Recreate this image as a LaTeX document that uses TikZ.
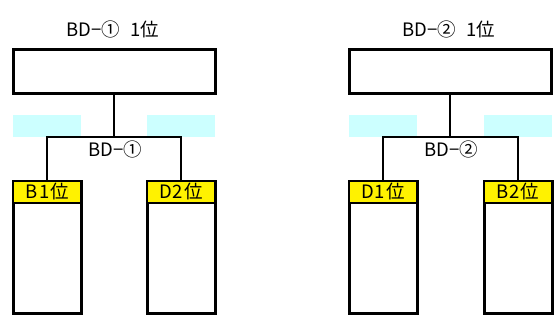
\documentclass[tikz,border=0pt]{standalone}
\usepackage{fontspec}
\setmainfont{Noto Sans CJK JP}
\definecolor{lcyan}{RGB}{204,255,255}
\begin{document}
\begin{tikzpicture}[x=1pt,y=-1pt,
  topbox/.style={draw=black,line width=3pt,fill=white,minimum width=202pt,minimum height=44pt,inner sep=0pt},
  lowbox/.style={draw=black,line width=3pt,fill=white,minimum width=68pt,minimum height=132pt,inner sep=0pt},
  headbox/.style={draw=black,line width=2pt,fill=yellow,minimum width=68pt,minimum height=22pt,inner sep=0pt,font=\fontsize{18.5pt}{18.5pt}\selectfont},
  cyanbox/.style={fill=lcyan,draw=none,minimum width=68pt,minimum height=22pt,inner sep=0pt},
  conn/.style={draw=black,line width=2pt},
  lbl/.style={font=\fontsize{18.5pt}{18.5pt}\selectfont,inner sep=0pt}
]
\useasboundingbox (0,0) rectangle (557,327);
\fill[white] (0,0) rectangle (557,327);
% ---- left group ----
\node[lbl] (title1) at (113,29) {BD−①\hspace{6pt} 1位};
\node[topbox] (t1) at (114,71) {};
\node[cyanbox] (c1l) at (47,126) {};
\node[cyanbox] (c1r) at (181,126) {};
\node[lowbox] (b1l) at (47,247) {};
\node[lowbox] (b1r) at (181,247) {};
\node[headbox,anchor=north] (h1l) at (b1l.north) {B\hspace{2pt}1\hspace{1pt}位};
\node[headbox,anchor=north] (h1r) at (b1r.north) {D\hspace{1pt}2\hspace{1pt}位};
\coordinate (j1) at (114,137);
\draw[conn] (t1.south) -- (j1);
\draw[conn] (b1l.north) |- (j1) -| (b1r.north);
\node[lbl] (m1) at (115,149) {BD−①};
% ---- right group ----
\node[lbl] (title2) at (449,29) {BD−②\hspace{6pt} 1位};
\node[topbox] (t2) at (450,71) {};
\node[cyanbox] (c2l) at (383,126) {};
\node[cyanbox] (c2r) at (518,126) {};
\node[lowbox] (b2l) at (383,247) {};
\node[lowbox] (b2r) at (518,247) {};
\node[headbox,anchor=north] (h2l) at (b2l.north) {D\hspace{1pt}1\hspace{1pt}位};
\node[headbox,anchor=north] (h2r) at (b2r.north) {B\hspace{1pt}2\hspace{1pt}位};
\coordinate (j2) at (450,137);
\draw[conn] (t2.south) -- (j2);
\draw[conn] (b2l.north) |- (j2) -| (b2r.north);
\node[lbl] (m2) at (451,149) {BD−②};
\end{tikzpicture}
\end{document}
